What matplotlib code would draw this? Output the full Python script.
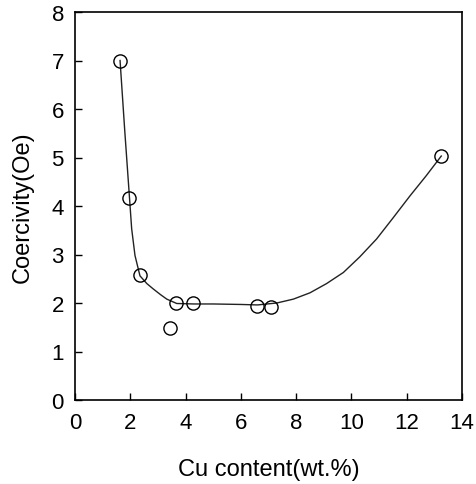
import matplotlib
matplotlib.use("Agg")
import matplotlib.pyplot as plt

# measured data points
cu = [1.63, 1.97, 2.35, 3.44, 3.65, 4.26, 6.6, 7.1, 13.25]
hc = [7.0, 4.17, 2.58, 1.48, 1.99, 2.01, 1.93, 1.92, 5.03]

# guide curve
curve_x = [1.63, 1.80, 1.97, 2.05, 2.17, 2.35, 2.6, 2.83, 3.1, 3.32, 3.68, 4.3, 5.0,
           6.0, 6.6, 7.3, 7.9, 8.5, 9.1, 9.71, 10.3, 10.91, 11.5, 12.12, 12.7, 13.25]
curve_y = [7.0, 5.55, 4.18, 3.53, 2.98, 2.56, 2.40, 2.29, 2.17, 2.08, 1.99, 1.98, 1.98,
           1.97, 1.96, 2.0, 2.08, 2.21, 2.40, 2.63, 2.95, 3.32, 3.75, 4.21, 4.62, 5.03]

xticks = [0, 2, 4, 6, 8, 10, 12, 14]
yticks = [0, 1, 2, 3, 4, 5, 6, 7, 8]

plt.rcParams['font.family'] = ['Liberation Sans', 'DejaVu Sans']

fig = plt.figure(figsize=(4.76, 4.85), dpi=100)
ax = fig.add_axes([75/476, 1 - 401/485, (462 - 75)/476, (401 - 13)/485])

ax.plot(curve_x, curve_y, color='#222222', lw=1.0, zorder=2)
ax.plot(cu, hc, linestyle='none', marker='o', markersize=9.5,
        markerfacecolor='none', markeredgecolor='black', markeredgewidth=1.0, zorder=3)

ax.set_xlim(0, 14)
ax.set_ylim(0, 8)
ax.set_xticks(xticks)
ax.set_yticks(yticks)
ax.tick_params(direction='in', length=5, width=1, labelsize=16,
               top=False, right=False)
ax.tick_params(axis='x', pad=9)
ax.tick_params(axis='y', pad=8)
for s in ax.spines.values():
    s.set_linewidth(1.2)

ax.set_xlabel('Cu content(wt.%)', fontsize=17, labelpad=18)
ax.set_ylabel('Coercivity(Oe)', fontsize=17, labelpad=13)

fig.savefig('out.png', dpi=100)
